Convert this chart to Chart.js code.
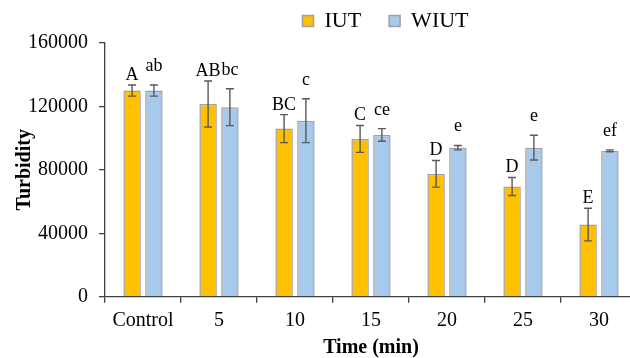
<!DOCTYPE html>
<html>
<head>
<meta charset="utf-8">
<script src="https://cdn.jsdelivr.net/npm/chart.js@4.4.1/dist/chart.umd.min.js"></script>
<style>
html, body { margin: 0; padding: 0; overflow: hidden; background: #fff; }
canvas { display: block; }
</style>
</head>
<body>
<canvas id="turbidityChart" width="640" height="358"></canvas>
<script>
// values
var timeLabels = ['Control', '5', '10', '15', '20', '25', '30'];
var iutValues = [130000, 121500, 106000, 99500, 77500, 69500, 45500];
var iutErrors = [3500, 14500, 8800, 8500, 8400, 5700, 10300];
var iutLetters = ['A', 'AB', 'BC', 'C', 'D', 'D', 'E'];
var wiutValues = [130000, 119500, 111000, 102000, 94000, 94000, 92000];
var wiutErrors = [3500, 11600, 13800, 4000, 1400, 7800, 600];
var wiutLetters = ['ab', 'bc', 'c', 'ce', 'e', 'e', 'ef'];
var yTicks = [0, 40000, 80000, 120000, 160000];

Chart.defaults.font.family = '"Liberation Serif", "Times New Roman", serif';
Chart.defaults.color = '#000';

// error bars + significance letters on top of each bar
var errorBars = {
    id: 'errorBars',
    afterDatasetsDraw: function (chart) {
        var ctx = chart.ctx;
        var y = chart.scales.y;
        chart.data.datasets.forEach(function (ds, i) {
            chart.getDatasetMeta(i).data.forEach(function (bar, j) {
                var top = y.getPixelForValue(ds.data[j] + ds.errors[j]);
                var bot = y.getPixelForValue(ds.data[j] - ds.errors[j]);
                ctx.save();
                ctx.strokeStyle = '#595959';
                ctx.lineWidth = 1.4;
                ctx.beginPath();
                ctx.moveTo(bar.x, top); ctx.lineTo(bar.x, bot);
                ctx.moveTo(bar.x - 4, top); ctx.lineTo(bar.x + 4, top);
                ctx.moveTo(bar.x - 4, bot); ctx.lineTo(bar.x + 4, bot);
                ctx.stroke();
                ctx.fillStyle = '#000';
                ctx.font = '18px "Liberation Serif"';
                ctx.textAlign = 'center';
                ctx.textBaseline = 'alphabetic';
                ctx.fillText(ds.letters[j], bar.x, top - ds.letterGap);
                ctx.restore();
            });
        });
    }
};

// legend sits right of centre and higher up in the original
var legendNudge = {
    id: 'legendNudge',
    afterLayout: function (chart) {
        var lg = chart.legend;
        lg.left += 67; lg.right += 67;
        lg.top -= 18; // bottom left alone so the clip box keeps the text
    }
};

var ctx = document.getElementById('turbidityChart').getContext('2d');
new Chart(ctx, {
    type: 'bar',
    data: {
        labels: timeLabels,
        datasets: [{
            label: 'IUT',
            data: iutValues,
            errors: iutErrors,
            letters: iutLetters,
            letterGap: 5,
            backgroundColor: '#FFC000',
            borderColor: '#A0A0A0',
            borderWidth: 1.5
        }, {
            label: 'WIUT',
            data: wiutValues,
            errors: wiutErrors,
            letters: wiutLetters,
            letterGap: 14,
            backgroundColor: '#A6C9EC',
            borderColor: '#A0A0A0',
            borderWidth: 1.5
        }]
    },
    options: {
        responsive: false,
        animation: false,
        devicePixelRatio: 1,
        categoryPercentage: 0.574,
        barPercentage: 0.8,
        layout: { padding: { right: 3 } },
        plugins: {
            legend: {
                position: 'top',
                maxHeight: 43,
                labels: { boxWidth: 11, boxHeight: 11, padding: 28, font: { size: 22 } }
            },
            tooltip: { enabled: false }
        },
        scales: {
            x: {
                offset: true,
                grid: { offset: true, drawOnChartArea: false, tickLength: 6, color: '#404040', lineWidth: 1.3 },
                border: { color: '#404040', width: 1.3 },
                ticks: { padding: 6, font: { size: 20 }, maxRotation: 0 },
                title: { display: true, text: 'Time (min)', font: { size: 20, weight: 'bold' }, padding: { top: 0, bottom: -2 } },
                afterFit: function (s) { s.height = 61.3; }
            },
            y: {
                min: 0,
                max: 160000,
                afterBuildTicks: function (s) {
                    s.ticks = yTicks.map(function (v) { return { value: v }; });
                },
                grid: { drawOnChartArea: false, tickLength: 6, color: '#404040', lineWidth: 1.3 },
                border: { color: '#404040', width: 1.3 },
                ticks: { padding: 11, font: { size: 20 }, callback: function (v) { return String(v); } },
                title: { display: true, text: 'Turbidity', font: { size: 20, weight: 'bold' }, padding: { top: 13, bottom: 0 } },
                afterFit: function (s) { s.width = 105; }
            }
        }
    },
    plugins: [errorBars, legendNudge]
});
</script>
</body>
</html>
